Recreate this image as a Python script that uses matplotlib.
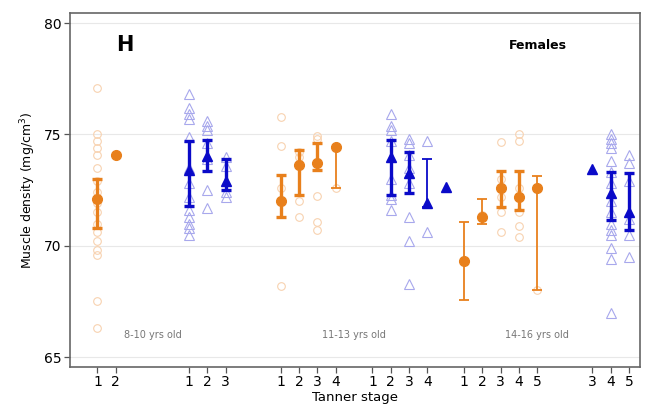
import numpy as np
import matplotlib
matplotlib.use("Agg")
import matplotlib.pyplot as plt

nan = np.nan

# ejes: posiciones de las marcas y etiquetas (estadio de Tanner)
tick_pos = [0, 1, 5, 6, 7, 10, 11, 12, 13, 15, 16, 17, 18, 20, 21, 22, 23, 24, 27, 28, 29]
tick_lab = ["1", "2", "1", "2", "3", "1", "2", "3", "4", "1", "2", "3", "4",
            "1", "2", "3", "4", "5", "3", "4", "5"]

# serie naranja (circulos)
orange_x = [0, 1, 10, 11, 12, 13, 20, 21, 22, 23, 24]
orange_mean = [72.1, 74.1, 72.0, 73.65, 73.7, 74.45, 69.3, 71.3, 72.6, 72.2, 72.6]
orange_lo = [70.8, nan, 71.3, 72.3, 73.4, 72.6, 67.55, 71.0, 71.75, 71.6, 68.0]
orange_hi = [73.0, nan, 73.2, 74.3, 74.6, 74.45, 71.05, 72.1, 73.35, 73.35, 73.15]
orange_pts = [
    [77.1, 75.0, 74.7, 74.4, 74.1, 73.5, 72.9, 72.4, 71.9, 71.5, 71.0, 70.6, 70.2, 69.8, 69.6, 67.5, 66.3],
    [],
    [75.8, 74.5, 72.6, 68.2],
    [74.2, 74.0, 72.0, 71.3],
    [74.95, 74.8, 72.25, 71.05, 70.7],
    [72.6],
    [],
    [71.4],
    [74.65, 73.0, 72.2, 71.5, 70.6],
    [75.0, 74.7, 72.6, 71.5, 70.9, 70.4],
    [68.0],
]

# serie azul (triangulos)
blue_x = [5, 6, 7, 16, 17, 18, 19, 27, 28, 29]
blue_mean = [73.4, 74.05, 72.9, 74.0, 73.25, 71.9, 72.65, 73.45, 72.35, 71.5]
blue_lo = [71.8, 73.35, 72.5, 72.3, 72.35, 71.75, nan, nan, 71.15, 70.7]
blue_hi = [74.7, 74.75, 73.9, 74.75, 74.2, 73.9, nan, nan, 73.3, 73.25]
blue_pts = [
    [76.8, 76.2, 75.9, 75.7, 74.9, 73.5, 72.8, 72.2, 71.6, 71.3, 71.0, 70.8, 70.5],
    [75.6, 75.4, 75.2, 74.6, 73.9, 72.5, 71.7],
    [74.0, 73.6, 72.4, 72.2],
    [75.9, 75.4, 75.2, 74.7, 73.0, 72.3, 72.1, 71.6],
    [74.8, 74.6, 74.1, 73.5, 72.8, 71.3, 70.2, 68.3],
    [74.7, 70.6],
    [],
    [],
    [75.0, 74.8, 74.6, 74.4, 73.8, 73.3, 72.8, 72.0, 71.5, 71.0, 70.7, 70.5, 69.9, 69.4, 67.0],
    [74.1, 73.7, 72.9, 71.2, 70.5, 69.5],
]

age_lab = ["8-10 yrs old", "11-13 yrs old", "14-16 yrs old"]
age_x = [3, 14, 24]

ORANGE = "#E8801C"
BLUE = "#0A0AC8"

fig = plt.figure(figsize=(6.5, 4.12), dpi=100)
ax = fig.add_axes([0.1077, 0.109, 0.877, 0.859])


def draw(ax, xs, means, lo, hi, pts, color, light, mk, ms_open, ms_fill):
    for x, m, l, h, p in zip(xs, means, lo, hi, pts):
        if len(p):
            ax.plot([x] * len(p), p, mk, ms=ms_open, mfc="none", mec=light, mew=0.8, zorder=2)
        lw = 2.4 if len(p) >= 3 else 1.3
        if not np.isnan(l):
            ax.errorbar(x, m, yerr=[[m - l], [h - m]], fmt="none", ecolor=color,
                        elinewidth=lw, capsize=3.5, capthick=lw, zorder=3)
        ax.plot(x, m, mk, ms=ms_fill, color=color, zorder=4)


draw(ax, orange_x, orange_mean, orange_lo, orange_hi, orange_pts, ORANGE, "#F8D2B0", "o", 5.5, 7)
draw(ax, blue_x, blue_mean, blue_lo, blue_hi, blue_pts, BLUE, "#A8A8EC", "^", 6.5, 7.5)

ax.set_xlim(-1.5, 29.6)
ax.set_ylim(64.55, 80.45)
ax.set_yticks([65, 70, 75, 80])
ax.set_xticks(tick_pos)
ax.set_xticklabels(tick_lab)
ax.tick_params(axis="both", labelsize=10, color="#555555", length=4, width=0.9, pad=2)
ax.grid(axis="y", color="#E8E8E8", lw=0.8)
ax.set_axisbelow(True)
for s in ax.spines.values():
    s.set_color("#666666")
    s.set_linewidth(1.2)

ax.set_xlabel("Tanner stage", fontsize=9.5, labelpad=1)
ax.set_ylabel("Muscle density (mg/cm$^3$)", fontsize=9)

ax.text(1.5, 79.0, "H", fontsize=15, fontweight="bold", ha="center", va="center")
ax.text(24.0, 79.0, "Females", fontsize=9, fontweight="bold", ha="center", va="center")
for x, t in zip(age_x, age_lab):
    ax.text(x, 66.0, t, fontsize=7, color="#777777", ha="center", va="center")

plt.savefig("out.png", dpi=100)
